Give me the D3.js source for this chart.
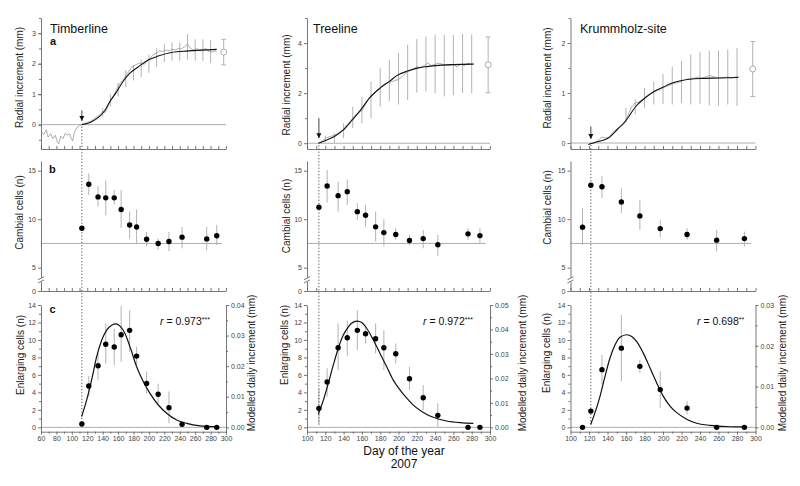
<!DOCTYPE html>
<html><head><meta charset="utf-8">
<script src="https://cdn.jsdelivr.net/npm/d3@7"></script>
<style>body{margin:0;background:#fff} svg{display:block} text{font-family:"Liberation Sans",Arial,sans-serif}</style>
</head><body><svg id="c" width="800" height="486"></svg>
<script>
// ---------- DATA ----------
// Panel a: daily radial increment (gray line), fitted curve, SD bars, final ring width
const timberRaw = [[60.4,-0.24],[63.9,-0.32],[66.9,-0.17],[69.1,-0.41],[72.5,-0.30],[75.6,-0.46],[78.6,-0.35],[81.2,-0.57],[83,-0.63],[85.5,-0.38],[88.5,-0.46],[91.5,-0.28],[94.1,-0.35],[97.2,-0.30],[99.3,-0.46],[101.1,-0.54],[102.8,-0.30],[104.5,-0.19],[107.1,-0.08],[110.2,-0.02],[113,0],[116,0.02],[120,0.08],[124,0.1],[128,0.18],[132,0.25],[136,0.32],[140,0.42],[143,0.4],[146,0.55],[150,0.8],[154,0.95],[158,1.15],[162,1.35],[166,1.45],[170,1.6],[174,1.75],[178,1.9],[182,1.95],[186,2.0],[190,2.02],[194,1.98],[198,2.1],[202,2.2],[206,2.3],[210,2.35],[214,2.42],[218,2.4],[222,2.45],[226,2.42],[230,2.48],[234,2.45],[238,2.5],[242,2.48],[246,2.55],[250,2.65],[254,2.5],[258,2.45],[262,2.5],[266,2.42],[270,2.45],[274,2.5],[278,2.4],[282,2.38],[286,2.42],[288,2.4]];
const timberFit = [[113,0],[125,0.09],[136,0.27],[143,0.47],[149,0.74],[158,1.07],[166,1.40],[175,1.68],[186,1.89],[199,2.12],[212,2.25],[229,2.37],[251,2.42],[288,2.47]];
const timberBarDays = [140,150,160,170,180,190,200,210,220,230,240,250,260,270,280];
const timberBarMean = [0.4,0.8,1.15,1.5,1.7,1.85,2.0,2.2,2.35,2.4,2.4,2.55,2.45,2.45,2.4];
const timberBarSd = [0.14,0.2,0.22,0.28,0.25,0.28,0.3,0.3,0.3,0.3,0.3,0.42,0.35,0.35,0.38];
const timberFinal = [297,2.38,0.42];

const treeRaw = [[113,0],[116,0.05],[120,0.2],[124,0.25],[128,0.3],[132,0.35],[136,0.45],[140,0.55],[144,0.75],[148,0.9],[152,1.1],[156,1.2],[160,1.3],[164,1.55],[168,1.8],[172,1.95],[176,2.1],[180,2.2],[184,2.35],[188,2.4],[192,2.45],[196,2.5],[200,2.55],[204,2.65],[208,2.8],[212,2.88],[216,2.95],[220,3.05],[224,3.02],[228,3.1],[232,3.2],[236,3.1],[240,3.15],[244,3.2],[248,3.15],[252,3.12],[256,3.1],[260,3.15],[264,3.05],[268,3.15],[272,3.1],[276,3.2],[280,3.15],[283,3.17]];
const treeFit = [[112.4,0],[121.5,0.13],[129.9,0.27],[139.7,0.53],[149.5,0.93],[158.7,1.33],[168.1,1.8],[179.8,2.2],[190,2.47],[199.5,2.73],[210.7,2.89],[220.5,3.0],[230.8,3.06],[240.6,3.1],[259.9,3.14],[281.8,3.16]];
const treeBarDays = [120,130,140,150,160,170,180,190,200,210,220,230,240,250,260,270,280];
const treeBarMean = [0.18,0.2,0.5,1.03,1.33,1.73,2.23,2.5,2.57,2.83,3.09,3.16,3.17,3.1,3.12,3.19,3.17];
const treeBarSd = [0.12,0.2,0.3,0.43,0.53,0.73,0.77,0.83,1.03,1.1,1.07,1.1,1.17,1.23,1.2,1.18,1.17];
const treeFinal = [298,3.13,1.11];

const krumRaw = [[121,-0.02],[125,0.0],[130,0.05],[134,0.12],[138,0.1],[142,0.12],[146,0.22],[150,0.28],[154,0.33],[158,0.38],[162,0.55],[166,0.72],[170,0.8],[174,0.82],[178,0.88],[182,0.93],[186,0.98],[190,1.02],[194,1.05],[198,1.08],[202,1.12],[206,1.15],[210,1.18],[214,1.2],[218,1.22],[222,1.25],[226,1.28],[230,1.28],[234,1.3],[238,1.32],[242,1.3],[246,1.32],[250,1.35],[254,1.33],[258,1.3],[262,1.3],[266,1.31],[270,1.32],[274,1.3],[278,1.32],[282,1.33]];
const krumFit = [[119.2,-0.03],[130,0.03],[140.9,0.1],[150.6,0.27],[160.8,0.47],[170.5,0.73],[180.5,0.9],[190.3,1.03],[200.4,1.12],[210,1.2],[220.2,1.25],[240,1.29],[259.8,1.3],[281.4,1.31]];
const krumBarDays = [160,170,180,190,200,210,220,230,240,250,260,270,280];
const krumBarMean = [0.55,0.72,0.9,1.0,1.08,1.15,1.22,1.27,1.3,1.3,1.3,1.32,1.32];
const krumBarSd = [0.15,0.15,0.2,0.23,0.3,0.38,0.42,0.5,0.52,0.55,0.55,0.55,0.58];
const krumFinal = [297,1.48,0.55];

// Panels b and c: sampling days, cambial cells, enlarging cells (mean and SD range)
const timberDays = [113,122,134,144,155,164,175,184,197,212,226,243,275,288];
const timberCambial = [9.07,13.6,12.3,12.2,12.2,11.0,9.4,9.2,7.94,7.5,7.7,8.15,7.97,8.3];
const timberCambialErr = [null,[12.5,14.7],[11.3,13.4],[10.4,14.0],[11.5,13.0],[9.1,13.0],[8.0,10.8],[7.5,11.0],[7.2,8.7],[6.85,8.0],[6.7,8.7],[7.0,9.2],[6.8,9.2],[7.35,9.4]];
const timberEnlarging = [0.38,4.73,7.05,9.5,9.2,10.6,11.1,8.15,5.03,3.78,2.25,0.34,0,0];
const timberEnlargingErr = [null,[3.5,5.9],[5.4,8.5],[7.3,11.9],[7.1,11.3],[7.5,13.9],[8.65,13.4],[7.1,9.2],[3.9,6.4],[2.75,5.0],[0.46,4.1],null,null,null];
const timberModel = [[112.7,0.0035],[119.2,0.0089],[125.7,0.0155],[132.2,0.0231],[138.7,0.0285],[145.2,0.0318],[151.7,0.0334],[157.3,0.0338],[162.5,0.0331],[169,0.0307],[175.5,0.0263],[184.1,0.0198],[192.8,0.0149],[201.4,0.0111],[212.2,0.0073],[223,0.0046],[236,0.0024],[249,0.0013],[266.3,0.0005],[287.9,0.0002]];

const treeDays = [113,122,134,144,155,164,175,184,197,212,227,243,276,289];
const treeCambial = [11.23,13.43,12.43,12.84,10.78,10.41,9.21,8.62,8.42,7.8,8.0,7.36,8.49,8.31];
const treeCambialErr = [null,[11.7,15.07],[10.78,13.87],[11.47,14.1],[9.93,11.65],[9.24,11.47],[7.7,10.78],[7.18,10.0],[7.87,9.07],[7.3,8.4],[7.0,8.9],[6.22,8.38],[7.87,9.07],[7.47,9.07]];
const treeEnlarging = [2.17,5.18,9.11,10.25,11.1,10.71,10.14,9.11,8.42,5.56,3.39,1.37,0,0];
const treeEnlargingErr = [[0.26,4.46],[3.5,6.75],[6.56,11.9],[8.2,12.2],[8.85,13.4],[9.6,11.5],[8.47,11.9],[6.56,11.1],[7.3,9.6],[4.27,6.93],[1.98,4.84],[0.07,2.75],null,null];
const treeModel = [[112.4,0.0054],[117.9,0.0111],[123.3,0.018],[128.8,0.0255],[134.2,0.0323],[139.7,0.0377],[145.2,0.0411],[150.6,0.043],[155,0.0434],[159.8,0.0428],[165.2,0.0405],[172.5,0.0357],[179.8,0.0302],[187.1,0.0248],[194.3,0.0193],[201.6,0.0153],[209,0.0119],[216.2,0.0091],[227.1,0.0061],[238,0.0041],[252.6,0.0026],[267.2,0.0019],[281.8,0.0016]];

const krumDays = [113,122,134,155,175,197,226,258,288];
const krumCambial = [9.18,13.5,13.35,11.78,10.34,9.03,8.42,7.84,8.0];
const krumCambialErr = [[7.36,11.13],null,[12.16,14.45],[10.62,13.19],[8.9,11.99],[8.15,9.93],[7.87,9.07],[6.67,8.9],[7.18,8.72]];
const krumEnlarging = [0,1.86,6.6,9.06,6.98,4.32,2.2,0,0];
const krumEnlargingErr = [null,null,[4.9,8.3],[5.27,12.86],[6.22,7.74],[2.24,6.41],[1.48,3.0],null,null];
const krumModel = [[121.8,0.0007],[126.5,0.0036],[131.9,0.0076],[137.3,0.0125],[142.7,0.017],[148.1,0.0202],[153.5,0.0221],[160.8,0.0227],[166.2,0.0223],[171.6,0.021],[178.7,0.0182],[185.9,0.0146],[193.2,0.0109],[200.4,0.0076],[207.6,0.0052],[214.8,0.0036],[225.6,0.002],[236.4,0.001],[250.8,0.0005],[268.9,0.0002],[286.9,0.0001]];

const siteNames = ["Timberline","Treeline","Krummholz-site"];
const rValues = ["0.973","0.972","0.698"];
const rStars = ["***","***","**"];
const onsetDays = [113,113,122];

// ---------- LAYOUT / DRAW ----------
const cols = [
 {name:siteNames[0], xDom:[60,300], xR:[41,226], aDom:[-0.8,3.5], aTicks:[0,1,2,3], aMinor:d3.range(-0.5,3.51,0.5),
  raw:timberRaw, fit:timberFit, bd:timberBarDays, bm:timberBarMean, bs:timberBarSd, fin:timberFinal, arrow:[0.47,0.12],
  days:timberDays, camb:timberCambial, cambE:timberCambialErr, enl:timberEnlarging, enlE:timberEnlargingErr, model:timberModel,
  rMax:0.04, r:rValues[0], st:rStars[0], rX:160, onset:onsetDays[0],
  tRad:[23,77.5], tCamb:[23,212.5], tEnl:[24,355], tMod:[254.5,363], titleX:50, letters:true},
 {name:siteNames[1], xDom:[100,300], xR:[307,490], aDom:[-0.23,5], aTicks:[0,2,4], aMinor:[1,3,5],
  raw:treeRaw, fit:treeFit, bd:treeBarDays, bm:treeBarMean, bs:treeBarSd, fin:treeFinal, arrow:[1.0,0.2],
  days:treeDays, camb:treeCambial, cambE:treeCambialErr, enl:treeEnlarging, enlE:treeEnlargingErr, model:treeModel,
  rMax:0.05, r:rValues[1], st:rStars[1], rX:423, onset:onsetDays[1],
  tRad:[290,85], tCamb:[290,216], tEnl:[288,345], tMod:[526,363], titleX:313, letters:false},
 {name:siteNames[2], xDom:[100,300], xR:[570.5,755.5], aDom:[-0.12,2.5], aTicks:[0,1,2], aMinor:[0.5,1.5,2.5],
  raw:krumRaw, fit:krumFit, bd:krumBarDays, bm:krumBarMean, bs:krumBarSd, fin:krumFinal, arrow:[0.33,0.08],
  days:krumDays, camb:krumCambial, cambE:krumCambialErr, enl:krumEnlarging, enlE:krumEnlargingErr, model:krumModel,
  rMax:0.03, r:rValues[2], st:rStars[2], rX:697, onset:onsetDays[2],
  tRad:[551,78], tCamb:[551,207.5], tEnl:[550,353], tMod:[786,363], titleX:580, letters:false}
];

const svg = d3.select('#c');
const AX = '#555', TXT = '#444', BAR = '#aaa';
svg.append('defs').append('marker').attr('id','arr').attr('viewBox','0 0 10 10')
  .attr('refX',10).attr('refY',5).attr('markerWidth',5).attr('markerHeight',6).attr('markerUnits','userSpaceOnUse')
  .attr('orient','auto').append('path').attr('d','M0,0L10,5L0,10z').attr('fill','#111');

function styleAxis(g){
  g.attr('font-family','Liberation Sans, Arial, sans-serif').attr('font-size',7);
  g.selectAll('path,line').attr('stroke',AX).attr('stroke-width',0.8);
  g.selectAll('text').attr('fill',TXT);
}
function vText(x,y,t,size){
  svg.append('text').attr('transform',`translate(${x},${y}) rotate(-90)`).attr('text-anchor','middle')
    .attr('font-size',size||10).attr('fill','#222').text(t);
}

const A_TOP=18, A_BOT=149, B_TOP=161, B_BOT=291, C_TOP=305, C_BOT=431.7;

cols.forEach((c,i)=>{
  const x = d3.scaleLinear().domain(c.xDom).range(c.xR);
  const [L,R] = c.xR;
  const g = svg.append('g');

  // ===== Panel a =====
  const ya = d3.scaleLinear().domain(c.aDom).range([A_BOT,A_TOP]);
  g.append('line').attr('x1',L).attr('x2',R).attr('y1',ya(0)).attr('y2',ya(0)).attr('stroke','#999').attr('stroke-width',0.8);
  g.selectAll('.ba').data(c.bd).enter().append('line')
    .attr('x1',d=>x(d)).attr('x2',d=>x(d))
    .attr('y1',(d,k)=>ya(c.bm[k]-c.bs[k])).attr('y2',(d,k)=>ya(c.bm[k]+c.bs[k]))
    .attr('stroke',BAR).attr('stroke-width',0.9);
  g.append('path').datum(c.raw).attr('fill','none').attr('stroke','#999').attr('stroke-width',0.8)
    .attr('d',d3.line().x(d=>x(d[0])).y(d=>ya(d[1])));
  g.append('path').datum(c.fit).attr('fill','none').attr('stroke','#111').attr('stroke-width',1.1)
    .attr('d',d3.line().curve(d3.curveMonotoneX).x(d=>x(d[0])).y(d=>ya(d[1])));
  const f = c.fin;
  g.append('line').attr('x1',x(f[0])).attr('x2',x(f[0])).attr('y1',ya(f[1]-f[2])).attr('y2',ya(f[1]+f[2])).attr('stroke',BAR).attr('stroke-width',0.9);
  [f[1]-f[2],f[1]+f[2]].forEach(v=>g.append('line').attr('x1',x(f[0])-2.5).attr('x2',x(f[0])+2.5).attr('y1',ya(v)).attr('y2',ya(v)).attr('stroke',BAR).attr('stroke-width',0.9));
  g.append('circle').attr('cx',x(f[0])).attr('cy',ya(f[1])).attr('r',3).attr('fill','#fff').attr('stroke','#999').attr('stroke-width',0.8);
  g.append('line').attr('x1',x(c.onset)).attr('x2',x(c.onset)).attr('y1',ya(c.arrow[0])).attr('y2',ya(c.arrow[1]))
    .attr('stroke','#111').attr('stroke-width',0.8).attr('marker-end','url(#arr)');
  const axA = g.append('g').attr('transform',`translate(${L},0)`)
    .call(d3.axisLeft(ya).tickValues(c.aTicks).tickSize(3).tickPadding(2).tickSizeOuter(0).tickFormat(d3.format('d')));
  styleAxis(axA);
  const axAm = g.append('g').attr('transform',`translate(${L},0)`)
    .call(d3.axisLeft(ya).tickValues(c.aMinor.filter(v=>v>=c.aDom[0]&&v<=c.aDom[1])).tickSize(2).tickFormat(''));
  styleAxis(axAm); axAm.select('path').remove();
  const axAx = g.append('g').attr('transform',`translate(0,${A_BOT})`)
    .call(d3.axisBottom(x).tickValues(d3.range(c.xDom[0],301,10)).tickSize(-3).tickFormat('').tickSizeOuter(0));
  styleAxis(axAx);

  // ===== Panel b =====
  const yb = d3.scaleLinear().domain([0,5,16]).range([B_BOT,267.7,B_TOP]);
  g.append('line').attr('x1',L).attr('x2',R-4).attr('y1',yb(7.5)).attr('y2',yb(7.5)).attr('stroke','#999').attr('stroke-width',0.8);
  c.days.forEach((d,k)=>{
    const e = c.cambE[k];
    if(e) g.append('line').attr('x1',x(d)).attr('x2',x(d)).attr('y1',yb(e[0])).attr('y2',yb(e[1])).attr('stroke',BAR).attr('stroke-width',0.9);
  });
  g.selectAll('.pb').data(c.days).enter().append('circle')
    .attr('cx',d=>x(d)).attr('cy',(d,k)=>yb(c.camb[k])).attr('r',2.7).attr('fill','#000');
  const axB = g.append('g').attr('transform',`translate(${L},0)`)
    .call(d3.axisLeft(yb).tickValues([0,5,10,15]).tickSize(3).tickPadding(2).tickSizeOuter(0).tickFormat(d3.format('d')));
  styleAxis(axB);
  const yBr = yb(2.4);
  g.append('rect').attr('x',L-2).attr('y',yBr-2).attr('width',4).attr('height',4).attr('fill','#fff');
  [-1.6,1.6].forEach(o=>g.append('line').attr('x1',L-3).attr('x2',L+3).attr('y1',yBr+o+1.5).attr('y2',yBr+o-1.5).attr('stroke',AX).attr('stroke-width',0.8));
  const axBx = g.append('g').attr('transform',`translate(0,${B_BOT})`)
    .call(d3.axisBottom(x).tickValues(d3.range(c.xDom[0],301,10)).tickSize(-3).tickFormat('').tickSizeOuter(0));
  styleAxis(axBx);

  // ===== Panel c =====
  const yc = d3.scaleLinear().domain([-0.5,14]).range([C_BOT,C_TOP]);
  const yr = d3.scaleLinear().domain([-0.5*c.rMax/14,c.rMax]).range([C_BOT,C_TOP]);
  g.append('line').attr('x1',L).attr('x2',R).attr('y1',yc(0)).attr('y2',yc(0)).attr('stroke','#999').attr('stroke-width',0.8);
  c.days.forEach((d,k)=>{
    const e = c.enlE[k];
    if(e) g.append('line').attr('x1',x(d)).attr('x2',x(d)).attr('y1',yc(e[0])).attr('y2',yc(e[1])).attr('stroke',BAR).attr('stroke-width',0.9);
  });
  g.append('path').datum(c.model).attr('fill','none').attr('stroke','#111').attr('stroke-width',1.2)
    .attr('d',d3.line().curve(d3.curveMonotoneX).x(d=>x(d[0])).y(d=>yr(d[1])));
  g.selectAll('.pc').data(c.days).enter().append('circle')
    .attr('cx',d=>x(d)).attr('cy',(d,k)=>yc(c.enl[k])).attr('r',2.7).attr('fill','#000');
  const axC = g.append('g').attr('transform',`translate(${L},0)`)
    .call(d3.axisLeft(yc).tickValues(d3.range(0,15,2)).tickSize(3).tickPadding(2).tickSizeOuter(0).tickFormat(d3.format('d')));
  styleAxis(axC);
  const axCm = g.append('g').attr('transform',`translate(${L},0)`)
    .call(d3.axisLeft(yc).tickValues(d3.range(1,14,2)).tickSize(2).tickFormat(''));
  styleAxis(axCm); axCm.select('path').remove();
  const axR = g.append('g').attr('transform',`translate(${R},0)`)
    .call(d3.axisRight(yr).tickValues(d3.range(0,c.rMax+1e-9,0.01)).tickSize(3).tickPadding(2).tickSizeOuter(0).tickFormat(d3.format('.2f')));
  styleAxis(axR);
  const axRm = g.append('g').attr('transform',`translate(${R},0)`)
    .call(d3.axisRight(yr).tickValues(d3.range(0.005,c.rMax,0.01)).tickSize(2).tickFormat(''));
  styleAxis(axRm); axRm.select('path').remove();
  const axCx = g.append('g').attr('transform',`translate(0,${C_BOT})`)
    .call(d3.axisBottom(x).tickValues(d3.range(c.xDom[0],301,20)).tickSize(3).tickPadding(1.5).tickSizeOuter(0).tickFormat(d3.format('d')));
  styleAxis(axCx);
  const axCxm = g.append('g').attr('transform',`translate(0,${C_BOT})`)
    .call(d3.axisBottom(x).tickValues(d3.range(c.xDom[0]+10,300,20)).tickSize(2).tickFormat(''));
  styleAxis(axCxm); axCxm.select('path').remove();

  g.append('line').attr('x1',x(c.onset)).attr('x2',x(c.onset)).attr('y1',ya(0)+2).attr('y2',yc(0)-3)
    .attr('stroke','#222').attr('stroke-width',0.8).attr('stroke-dasharray','1.2,2');

  svg.append('text').attr('x',c.titleX).attr('y',32.7).attr('font-size',12.5).attr('fill','#111').text(c.name);
  if(c.letters){
    svg.append('text').attr('x',50).attr('y',45).attr('font-size',11).attr('font-weight','bold').attr('fill','#111').text('a');
    svg.append('text').attr('x',49).attr('y',173).attr('font-size',11).attr('font-weight','bold').attr('fill','#111').text('b');
    svg.append('text').attr('x',49.5).attr('y',313).attr('font-size',11).attr('font-weight','bold').attr('fill','#111').text('c');
  }
  vText(c.tRad[0],c.tRad[1],'Radial increment (mm)');
  vText(c.tCamb[0],c.tCamb[1],'Cambial cells (n)');
  vText(c.tEnl[0],c.tEnl[1],'Enlarging cells (n)');
  vText(c.tMod[0],c.tMod[1],'Modelled daily increment (mm)');
  const rt = svg.append('text').attr('x',c.rX).attr('y',325).attr('font-size',10.5).attr('fill','#111');
  rt.append('tspan').attr('font-style','italic').text('r');
  rt.append('tspan').text(' = '+c.r);
  rt.append('tspan').attr('font-size',7).attr('dy',-3.5).text(c.st);
});

svg.append('text').attr('x',404).attr('y',455).attr('text-anchor','middle').attr('font-size',12).attr('fill','#111').text('Day of the year');
svg.append('text').attr('x',404).attr('y',468).attr('text-anchor','middle').attr('font-size',12).attr('fill','#111').text('2007');
</script></body></html>
